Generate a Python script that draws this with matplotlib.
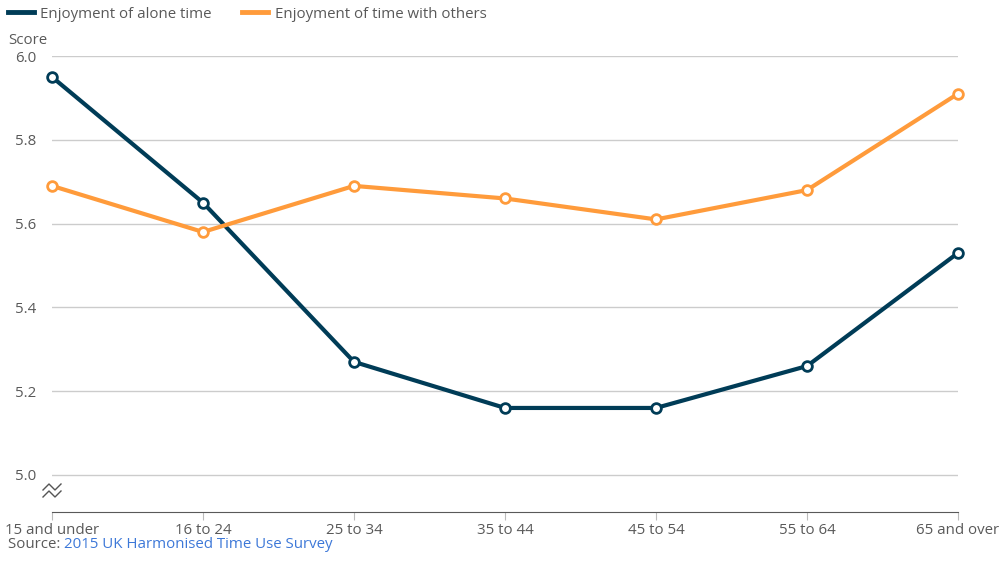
import matplotlib.pyplot as plt
from matplotlib.lines import Line2D

plt.rcParams["font.family"] = ["Open Sans", "DejaVu Sans"]

ages = ["15 and under", "16 to 24", "25 to 34", "35 to 44", "45 to 54", "55 to 64", "65 and over"]
alone = [5.95, 5.65, 5.27, 5.16, 5.16, 5.26, 5.53]
others = [5.69, 5.58, 5.69, 5.66, 5.61, 5.68, 5.91]
yticks = [5.0, 5.2, 5.4, 5.6, 5.8, 6.0]

navy = "#003c57"
orange = "#ff9b3b"
text_col = "#595959"
fs = 10.8

W, H = 1007, 573
fig = plt.figure(figsize=(W / 100, H / 100), dpi=100)
ax = fig.add_axes([52 / W, (H - 512) / H, (958 - 52) / W, (512 - 56) / H])

x = range(len(ages))
for vals, col in [(alone, navy), (others, orange)]:
    ax.plot(x, vals, color=col, lw=3, marker="o", ms=7, mfc="white",
            mec=col, mew=2, clip_on=False, zorder=3)

ax.set_xlim(0, len(ages) - 1)
ax.set_ylim(5.0 - 37 / 419, 6.0)
ax.set_yticks(yticks)
ax.set_yticklabels([f"{v:.1f}" for v in yticks])
ax.set_xticks(list(x))
ax.set_xticklabels(ages)
ax.grid(axis="y", color="#cccccc", lw=1)
ax.set_axisbelow(True)
for s in ["top", "right", "left"]:
    ax.spines[s].set_visible(False)
ax.spines["bottom"].set_color("#595959")
ax.tick_params(axis="y", length=0, pad=11, labelsize=fs, labelcolor=text_col)
ax.tick_params(axis="x", length=6, color="#bbbbbb", pad=2, labelsize=fs, labelcolor=text_col)

# axis break symbol (two zigzags)
for dy in (0, 7):
    px = [43, 49, 55, 61]
    py = [490 + dy, 484 + dy, 490 + dy, 484 + dy]
    fig.add_artist(Line2D([p / W for p in px], [1 - p / H for p in py],
                          color="#555555", lw=1, transform=fig.transFigure))

fig.text(8 / W, 1 - 40 / H, "Score", fontsize=fs, color=text_col, va="center")

handles = [Line2D([], [], color=navy, lw=3.5), Line2D([], [], color=orange, lw=3.5)]
fig.legend(handles, ["Enjoyment of alone time", "Enjoyment of time with others"],
           loc="center left", bbox_to_anchor=(3 / W, 1 - 14 / H), ncol=2, frameon=False,
           handlelength=1.75, handletextpad=0.45, columnspacing=2.0,
           fontsize=fs, labelcolor=text_col, borderaxespad=0, borderpad=0.3)

fig.text(8 / W, 1 - 544 / H, "Source: ", fontsize=fs, color=text_col, va="center")
fig.text(64 / W, 1 - 544 / H, "2015 UK Harmonised Time Use Survey", fontsize=fs,
         color="#3d78d8", va="center")

fig.savefig("out.png", dpi=100)
